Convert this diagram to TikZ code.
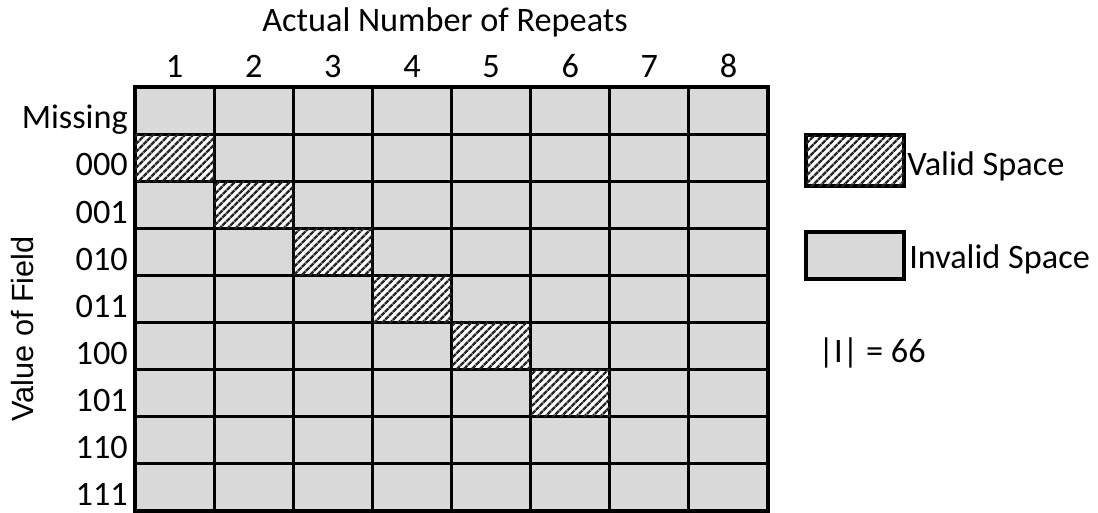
\documentclass[tikz,border=0pt]{standalone}
\usepackage{fontspec}
\setmainfont{Carlito}
\newfontfamily\arialfont{Liberation Sans}
\definecolor{cellgray}{RGB}{217,217,217}
\usetikzlibrary{patterns.meta}
\tikzset{
  cell/.style={draw=black,line width=2.3pt,fill=cellgray},
  validcell/.style={draw=black,line width=2.3pt,fill=white,
                    postaction={pattern={Lines[angle=45,distance=4pt,line width=1.9pt]},pattern color=black!85}},
  keybox/.style={line width=2.8pt},
  lbl/.style={font=\fontsize{25.7}{30}\selectfont,inner sep=0pt},
  axislbl/.style={lbl,font=\arialfont\fontsize{23}{28}\selectfont},
}

\begin{document}
\begin{tikzpicture}[x=0.75pt,y=-0.75pt]
    \useasboundingbox (0,0) rectangle (1098,512);
    % grid of cells
    \foreach \c in {1,...,8}
      \foreach \r in {0,...,8}
        \draw[cell] ({135+(\c-1)*79.125},{87+\r*47.11}) rectangle ++(79.125,47.11);
    \foreach \k in {1,...,6}
      \draw[validcell] ({135+(\k-1)*79.125},{87+\k*47.11}) rectangle ++(79.125,47.11);
    % axis labels
    \node[lbl,anchor=base] (title) at (445,31) {Actual Number of Repeats};
    \foreach \c in {1,...,8}
      \node[lbl,anchor=base] (col\c) at ({135+(\c-0.5)*79.125},77) {\c};
    \foreach \name [count=\r from 0] in {Missing,000,001,010,011,100,101,110,111}
      \node[lbl,anchor=base east] (row\r) at (128,{87+(\r+0.5)*47.11+18.3}) {\name};
    \node[axislbl,rotate=90,anchor=base] (field) at (33,329) {Value of Field};
    % legend
    \draw[validcell,keybox] (806,135) rectangle (904,186);
    \node[lbl,anchor=base west] (validtxt) at (907,175) {Valid Space};
    \draw[cell,keybox] (806,232) rectangle (904,279);
    \node[lbl,anchor=base west] (invalidtxt) at (909,268) {Invalid Space};
    \node[lbl,anchor=base west] (count) at (818,362) {|I| = 66};
  \end{tikzpicture}
\end{document}
